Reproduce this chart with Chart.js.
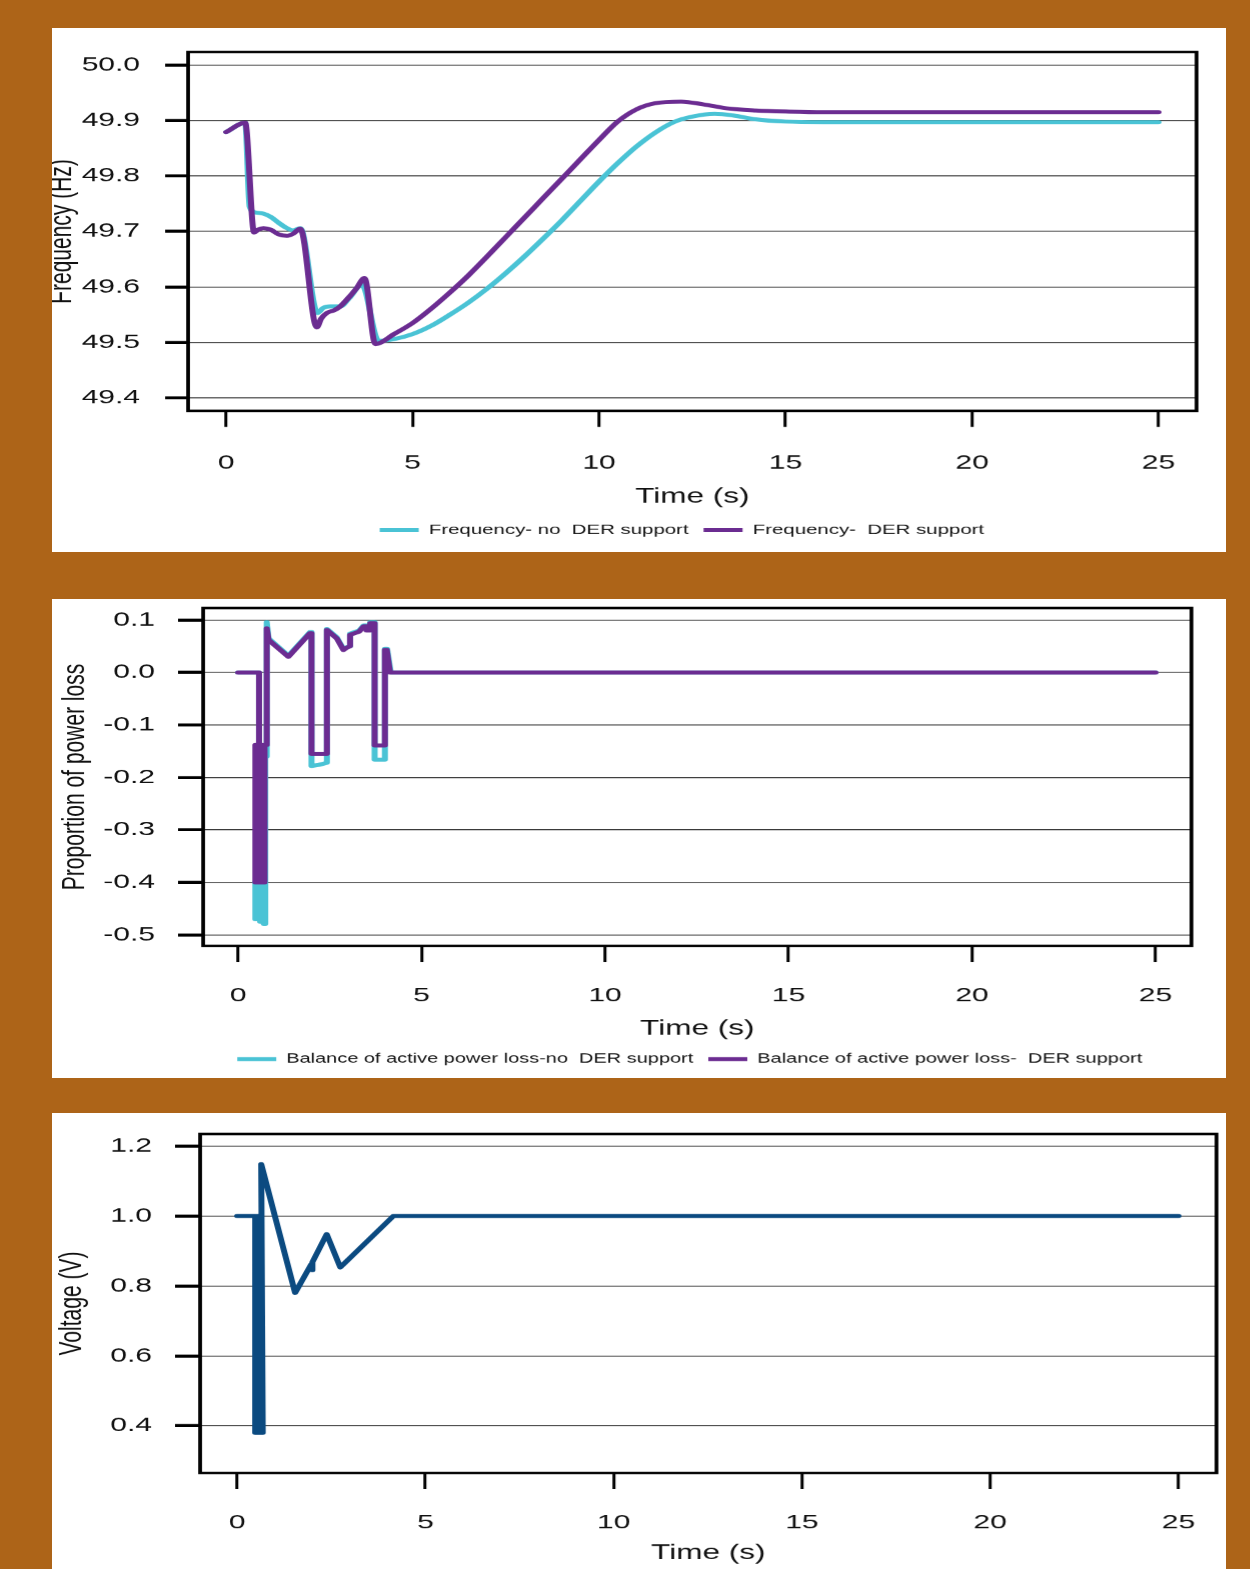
<!DOCTYPE html>
<html>
<head>
<meta charset="utf-8">
<script src="https://cdn.jsdelivr.net/npm/chart.js@4.4.1/dist/chart.umd.min.js"></script>
<style>
    html, body { margin: 0; padding: 0; background: #ad6418; }
    body { width: 1250px; height: 1569px; position: relative; overflow: hidden; }
    .panel { position: absolute; left: 52px; width: 1174px; background: #fff; overflow: hidden; }
    .panel canvas { position: absolute; left: 0; top: 0; transform: scaleX(1.5); transform-origin: 0 0; }
</style>
</head>
<body>
<div class="panel" style="top:28px;height:524px"><canvas id="freqChart" width="783" height="524"></canvas></div>
<div class="panel" style="top:599px;height:479px"><canvas id="lossChart" width="783" height="479"></canvas></div>
<div class="panel" style="top:1113px;height:456px"><canvas id="voltChart" width="783" height="456"></canvas></div>

<script>
// ---- data ----
const xTicks = [0, 5, 10, 15, 20, 25];

// Frequency panel
const freqTicks = [49.4, 49.5, 49.6, 49.7, 49.8, 49.9, 50.0];
const freqTimeNoDer = [0, 0.51, 0.63, 0.8, 1.0, 1.2, 1.4, 1.6, 1.8, 1.99, 2.45, 2.6, 2.8, 3.06, 3.3, 3.64, 4.09, 4.5, 5, 5.5, 6, 6.5, 7, 7.5, 8, 8.5, 9, 9.5, 10, 10.5, 11, 11.5, 12, 12.5, 13.1, 13.6, 14.2, 15, 16, 18, 25];
const freqNoDer = [49.879, 49.896, 49.745, 49.734, 49.732, 49.726, 49.716, 49.707, 49.702, 49.706, 49.553, 49.562, 49.565, 49.565, 49.58, 49.604, 49.503, 49.506, 49.515, 49.53, 49.55, 49.572, 49.597, 49.625, 49.655, 49.687, 49.72, 49.755, 49.79, 49.823, 49.853, 49.878, 49.897, 49.907, 49.912, 49.909, 49.902, 49.898, 49.897, 49.897, 49.897];
const freqTimeDer = [0, 0.51, 0.75, 0.85, 1.0, 1.2, 1.4, 1.63, 1.8, 1.99, 2.43, 2.55, 2.7, 2.9, 3.06, 3.3, 3.5, 3.71, 4.0, 4.5, 5, 5.5, 6, 6.5, 7, 7.5, 8, 8.5, 9, 9.5, 10, 10.5, 11, 11.5, 12.2, 12.8, 13.4, 14.2, 15.1, 16, 18, 25];
const freqDer = [49.879, 49.896, 49.698, 49.703, 49.706, 49.703, 49.695, 49.692, 49.696, 49.705, 49.527, 49.543, 49.553, 49.558, 49.565, 49.582, 49.598, 49.616, 49.497, 49.515, 49.535, 49.561, 49.59, 49.621, 49.655, 49.69, 49.725, 49.76, 49.795, 49.83, 49.865, 49.898, 49.92, 49.931, 49.934, 49.929, 49.922, 49.918, 49.916, 49.915, 49.915, 49.915];

// Power loss panel
const lossTicks = [-0.5, -0.4, -0.3, -0.2, -0.1, 0.0, 0.1];
const lossTimeNoDer = [0, 0.57, 0.57, 0.47, 0.47, 0.53, 0.53, 0.6, 0.6, 0.66, 0.66, 0.7, 0.7, 0.74, 0.74, 0.78, 0.78, 0.83, 1.37, 1.96, 2.0, 2.0, 2.2, 2.42, 2.42, 2.69, 2.87, 2.95, 3.05, 3.05, 3.3, 3.42, 3.5, 3.5, 3.6, 3.6, 3.72, 3.72, 4.0, 4.0, 4.06, 4.16, 25];
const lossNoDer = [0, 0, -0.40, -0.40, -0.47, -0.47, -0.40, -0.40, -0.475, -0.475, -0.40, -0.40, -0.479, -0.479, -0.16, -0.16, 0.096, 0.065, 0.032, 0.077, 0.077, -0.178, -0.176, -0.172, 0.083, 0.067, 0.045, 0.048, 0.05, 0.074, 0.08, 0.09, 0.09, 0.082, 0.082, 0.096, 0.096, -0.166, -0.166, 0.045, 0.045, 0.0, 0.0];
const lossTimeDer = [0, 0.57, 0.57, 0.47, 0.47, 0.52, 0.52, 0.57, 0.57, 0.62, 0.62, 0.67, 0.67, 0.72, 0.72, 0.78, 0.78, 0.83, 1.37, 1.96, 2.0, 2.0, 2.42, 2.42, 2.69, 2.87, 2.95, 3.05, 3.05, 3.3, 3.42, 3.5, 3.5, 3.6, 3.6, 3.72, 3.72, 4.0, 4.0, 4.05, 4.14, 25];
const lossDer = [0, 0, -0.138, -0.138, -0.40, -0.40, -0.138, -0.138, -0.40, -0.40, -0.138, -0.138, -0.40, -0.40, -0.138, -0.138, 0.084, 0.062, 0.03, 0.075, 0.075, -0.155, -0.155, 0.081, 0.065, 0.043, 0.047, 0.05, 0.072, 0.078, 0.088, 0.088, 0.08, 0.08, 0.094, 0.094, -0.139, -0.139, 0.043, 0.043, 0.0, 0.0];

// Voltage panel
const voltTicks = [0.4, 0.6, 0.8, 1.0, 1.2];
const voltTime = [0, 0.48, 0.48, 0.52, 0.52, 0.56, 0.56, 0.6, 0.6, 0.64, 0.64, 0.68, 0.64, 1.54, 1.97, 1.99, 2.0, 2.38, 2.74, 4.15, 25];
const voltage = [1.0, 1.0, 0.38, 0.38, 1.0, 1.0, 0.38, 0.38, 1.0, 1.0, 0.38, 0.38, 1.148, 0.78, 0.862, 0.845, 0.868, 0.948, 0.853, 1.0, 1.0];

// ---- helpers ----
const FONT = "'Liberation Sans', Arial, sans-serif";
const CYAN = '#4ac3d5';
const PURPLE = '#6b2c91';
const NAVY = '#0b4a80';

function zip(xs, ys) {
    return xs.map((x, i) => ({ x: x, y: ys[i] }));
}

function lineSet(label, xs, ys, color, order, smooth) {
    return {
        label: label,
        data: zip(xs, ys),
        borderColor: color,
        backgroundColor: color,
        borderWidth: 4,
        pointRadius: 0,
        tension: smooth ? 0.4 : 0,
        cubicInterpolationMode: smooth ? 'monotone' : 'default',
        borderJoinStyle: 'round',
        borderCapStyle: 'round',
        order: order
    };
}

// frame around the plot area (R style box)
const frameBox = {
    id: 'frameBox',
    afterDraw(chart) {
        const a = chart.chartArea;
        const ctx = chart.ctx;
        ctx.save();
        ctx.strokeStyle = '#000';
        ctx.lineWidth = 2.5;
        ctx.strokeRect(a.left, a.top, a.right - a.left, a.bottom - a.top);
        ctx.restore();
    }
};

// move the legend sideways so it sits where the original one does
const legendShift = {
    id: 'legendShift',
    afterLayout(chart, args, opts) {
        const l = chart.legend;
        if (l && opts.dx) {
            l.left += opts.dx;
            l.right += opts.dx;
        }
    }
};

function makeChart(id, o) {
    new Chart(document.getElementById(id), {
        type: 'line',
        data: { datasets: o.datasets },
        plugins: [frameBox, legendShift],
        options: {
            responsive: false,
            animation: false,
            devicePixelRatio: 1.5,
            layout: { padding: o.padding },
            plugins: {
                tooltip: { enabled: false },
                legendShift: { dx: o.legendDx },
                legend: {
                    display: o.legend,
                    position: 'bottom',
                    labels: {
                        boxWidth: 26,
                        boxHeight: 4,
                        padding: 10,
                        color: '#111',
                        font: { family: FONT, size: o.legendSize },
                        sort: (a, b) => a.datasetIndex - b.datasetIndex,
                        generateLabels: chart => Chart.defaults.plugins.legend.labels.generateLabels(chart)
                            .map(l => Object.assign(l, { lineWidth: 0 }))
                    }
                }
            },
            scales: {
                x: {
                    type: 'linear',
                    min: o.xMin,
                    max: o.xMax,
                    afterBuildTicks: s => { s.ticks = xTicks.map(v => ({ value: v })); },
                    afterFit: s => {
                        s.height = o.xHeight;
                        s.paddingLeft = 0; s.paddingRight = 0;
                    },
                    border: { display: false },
                    grid: { display: true, drawOnChartArea: false, drawTicks: true, tickLength: 16, tickWidth: 2, tickColor: '#000' },
                    ticks: {
                        autoSkip: false, maxRotation: 0, padding: o.xPad, color: '#111',
                        font: { family: FONT, size: 20 },
                        callback: v => String(v)
                    },
                    title: {
                        display: true, text: 'Time (s)', color: '#111',
                        font: { family: FONT, size: 21, lineHeight: 1 },
                        padding: { top: 0, bottom: o.xTitleBottom }
                    }
                },
                y: {
                    type: 'linear',
                    min: o.yMin,
                    max: o.yMax,
                    afterBuildTicks: s => { s.ticks = o.yTicks.map(v => ({ value: v })); },
                    afterFit: s => {
                        s.width = o.yWidth;
                        s.paddingTop = 0; s.paddingBottom = 0;
                    },
                    border: { display: false },
                    grid: { display: true, drawOnChartArea: true, color: '#3a3a3a', lineWidth: 1, drawTicks: true, tickLength: o.yTick, tickWidth: 3, tickColor: '#000' },
                    ticks: {
                        autoSkip: false, padding: o.yPad, color: '#111',
                        font: { family: FONT, size: 20 },
                        callback: v => v.toFixed(1)
                    },
                    title: {
                        display: true, text: o.yTitle, color: '#111',
                        font: { family: FONT, size: 21, lineHeight: 1 },
                        padding: { top: o.yTitleTop, bottom: 0 }
                    }
                }
            }
        }
    });
}

document.addEventListener('DOMContentLoaded', function() {
    makeChart('freqChart', {
        datasets: [
            lineSet('Frequency- no  DER support', freqTimeNoDer, freqNoDer, CYAN, 1, true),
            lineSet('Frequency-  DER support', freqTimeDer, freqDer, PURPLE, 0, true)
        ],
        padding: { left: 0, right: 20.3, top: 24, bottom: 5.25 },
        legend: true, legendSize: 13.6, legendDx: 38.4,
        xMin: -1.02, xMax: 26.02, xHeight: 102.25, xPad: 24, xTitleBottom: 5.75,
        yMin: 49.3766, yMax: 50.0234, yTicks: freqTicks, yWidth: 90.7, yTick: 15.3, yPad: 16.7,
        yTitle: 'Frequency (Hz)', yTitleTop: -3.8
    });

    makeChart('lossChart', {
        datasets: [
            lineSet('Balance of active power loss-no  DER support', lossTimeNoDer, lossNoDer, CYAN, 1, false),
            lineSet('Balance of active power loss-  DER support', lossTimeDer, lossDer, PURPLE, 0, false)
        ],
        padding: { left: 0, right: 23.7, top: 9, bottom: 2.5 },
        legend: true, legendSize: 13.3, legendDx: 45.3,
        xMin: -0.954, xMax: 25.98, xHeight: 96.5, xPad: 22, xTitleBottom: 3,
        yMin: -0.521, yMax: 0.1229, yTicks: lossTicks, yWidth: 100.7, yTick: 16.7, yPad: 15.3,
        yTitle: 'Proportion of power loss', yTitleTop: 4.8
    });

    makeChart('voltChart', {
        datasets: [
            lineSet('Voltage', voltTime, voltage, NAVY, 0, false)
        ],
        padding: { left: 0, right: 7, top: 21, bottom: 0 },
        legend: false, legendSize: 13, legendDx: 0,
        xMin: -0.983, xMax: 26.01, xHeight: 96, xPad: 22, xTitleBottom: 5.5,
        yMin: 0.265, yMax: 1.2344, yTicks: voltTicks, yWidth: 98.7, yTick: 16.7, yPad: 15.3,
        yTitle: 'Voltage (V)', yTitleTop: 2.8
    });
});
</script>
</body>
</html>
